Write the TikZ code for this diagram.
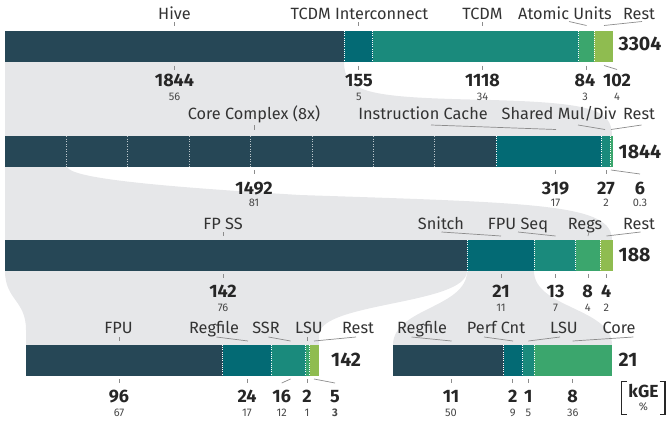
\documentclass[tikz,border=0pt]{standalone}
\usepackage{fontspec}
\setmainfont{Fira Sans}
\definecolor{cA}{HTML}{264756}
\definecolor{cB}{HTML}{036A74}
\definecolor{cC}{HTML}{1A8A7C}
\definecolor{cD}{HTML}{3BA66D}
\definecolor{cE}{HTML}{8FBC50}
\definecolor{bgc}{HTML}{E6E7E9}
\definecolor{lnc}{HTML}{8C8C8C}
\definecolor{txc}{HTML}{262626}
\definecolor{labc}{HTML}{333333}
\begin{document}
\begin{tikzpicture}[x=1pt,y=-1pt,
  lbl/.style={font=\fontsize{16.3}{18}\selectfont, text=labc, anchor=base, inner sep=0pt},
  num/.style={font=\bfseries\fontsize{18}{20}\selectfont, text=txc, anchor=base, inner sep=0pt},
  pct/.style={font=\fontsize{11}{12}\selectfont, text=txc!85, anchor=base, inner sep=0pt},
  tot/.style={font=\bfseries\fontsize{19.5}{22}\selectfont, text=txc, anchor=base west, inner sep=0pt},
  tk/.style={draw=lnc, line width=0.7pt},
  sepline/.style={draw=white, line width=0.9pt, dash pattern=on 1pt off 1.2pt},
  coresep/.style={draw=white, opacity=0.7, line width=0.8pt, dash pattern=on 1pt off 1.5pt},
  brk/.style={draw=txc, line width=1.8pt}]
\useasboundingbox (0,0) rectangle (667,426);
% ---------- funnels ----------
\fill[bgc] (5,62) -- (344,62) .. controls (344,92) and (368,97) .. (470,99.5)
  .. controls (590,102) and (612,108) .. (612,136) -- (5,136) -- cycle;
\fill[bgc] (5,167) -- (67,167) .. controls (72,178) and (150,186) .. (300,195)
  .. controls (540,203) and (612,204) .. (612,240) -- (5,240) -- cycle;
\fill[bgc] (5,271) -- (467,271) .. controls (467,305) and (319,302) .. (319,335) -- (319,345)
  -- (26,345) -- (26,330) .. controls (26,300) and (5,300) .. (5,271) -- cycle;
\fill[bgc] (467,271) -- (534,271) .. controls (534,308) and (612,308) .. (612,345)
  -- (393,345) .. controls (393,308) and (467,308) .. (467,271) -- cycle;
% ---------- bar 1 ----------
\fill[cA] (5,31) rectangle (344,62);
\fill[cB] (344,31) rectangle (372.5,62);
\fill[cC] (372.5,31) rectangle (578.5,62);
\fill[cD] (578.5,31) rectangle (594,62);
\fill[cE] (594,31) rectangle (612.5,62);
\foreach \x in {344,372.5,578.5,594} \draw[sepline] (\x,31) -- (\x,62);
% ---------- bar 2 ----------
\fill[cA] (5,136) rectangle (496,167);
\fill[cB] (496,136) rectangle (601,167);
\fill[cC] (601,136) rectangle (610,167);
\fill[cD] (610,136) rectangle (612.5,167);
\foreach \x in {66.4,127.8,189.2,250.6,312,373.4,434.8} \draw[coresep] (\x,136) -- (\x,167);
\foreach \x in {496,601,610} \draw[sepline] (\x,136) -- (\x,167);
% ---------- bar 3 ----------
\fill[cA] (5,240) rectangle (467,271);
\fill[cB] (467,240) rectangle (534,271);
\fill[cC] (534,240) rectangle (575.5,271);
\fill[cD] (575.5,240) rectangle (600,271);
\fill[cE] (600,240) rectangle (612.5,271);
\foreach \x in {467,534,575.5,600} \draw[sepline] (\x,240) -- (\x,271);
% ---------- bar 4a ----------
\fill[cA] (26,345) rectangle (222.5,376);
\fill[cB] (222.5,345) rectangle (271,376);
\fill[cC] (271,345) rectangle (305.5,376);
\fill[cD] (305.5,345) rectangle (309.5,376);
\fill[cE] (309.5,345) rectangle (319,376);
\foreach \x in {222.5,271,305.5,309.5} \draw[sepline] (\x,345) -- (\x,376);
% ---------- bar 4b ----------
\fill[cA] (393,345) rectangle (503.5,376);
\fill[cB] (503.5,345) rectangle (522.5,376);
\fill[cC] (522.5,345) rectangle (534,376);
\fill[cD] (534,345) rectangle (612,376);
\foreach \x in {503.5,522.5,534} \draw[sepline] (\x,345) -- (\x,376);

% ---------- row 1 labels ----------
\node[lbl] (h1) at (174.5,19) {Hive};
\node[lbl] (h2) at (359.5,19) {TCDM Interconnect};
\node[lbl] (h3) at (482.5,19) {TCDM};
\node[lbl] (h4) at (565,19) {Atomic Units};
\node[lbl] (h5) at (639,19) {Rest};
\draw[tk] (174.5,22) -- (174.5,26);
\draw[tk] (358.5,22) -- (358.5,26);
\draw[tk] (482.5,22) -- (482.5,26);
\draw[tk] (569,21.5) -- (586.5,25.5);
\draw[tk] (642,21.5) -- (604,25.5);
\draw[tk] (174.5,65.5) -- (174.5,69.5);
\draw[tk] (358.5,65.5) -- (358.5,69.5);
\draw[tk] (482.5,65.5) -- (482.5,69.5);
\draw[tk] (586,65.5) -- (586,69.5);
\draw[tk] (604,65.5) -- (617,69.5);
\node[num] (n11) at (174.5,86) {1844};
\node[num] (n12) at (359,86) {155};
\node[num] (n13) at (482.5,86) {1118};
\node[num] (n14) at (585,86) {84};
\node[num] (n15) at (617,86) {102};
\node[pct] (p11) at (174.5,100) {56};
\node[pct] (p12) at (359,100) {5};
\node[pct] (p13) at (482.5,100) {34};
\node[pct] (p14) at (585,100) {3};
\node[pct] (p15) at (617,100) {4};
\node[tot] (t1) at (618.5,50.5) {3304};

% ---------- row 2 labels ----------
\node[lbl] (c1) at (254,119.5) {Core Complex (8x)};
\node[lbl] (c2) at (423,119.5) {Instruction Cache};
\node[lbl] (c3) at (559,119.5) {Shared Mul/Div};
\node[lbl] (c4) at (639,119.5) {Rest};
\draw[tk] (254,125) -- (254,129.5);
\draw[tk] (431,125) -- (556,129.5);
\draw[tk] (578,125) -- (605,129.5);
\draw[tk] (641.5,125) -- (611,129.5);
\draw[tk] (254,170) -- (254,174);
\draw[tk] (555.5,170) -- (555.5,174);
\draw[tk] (606,170) -- (606,174);
\draw[tk] (611,170) -- (640,174);
\node[num] (n21) at (254,194.3) {1492};
\node[num] (n22) at (555.5,194.3) {319};
\node[num] (n23) at (606,194.3) {27};
\node[num] (n24) at (640,194.3) {6};
\node[pct] (p21) at (254,206.5) {81};
\node[pct] (p22) at (555.5,206.5) {17};
\node[pct] (p23) at (606,206.5) {2};
\node[pct] (p24) at (640,206.5) {0.3};
\node[tot] (t2) at (618.5,158.3) {1844};

% ---------- row 3 labels ----------
\node[lbl] (f1) at (223,229) {FP SS};
\node[lbl] (f2) at (441,229) {Snitch};
\node[lbl] (f3) at (518,229) {FPU Seq};
\node[lbl] (f4) at (585,229) {Regs};
\node[lbl] (f5) at (639,229) {Rest};
\draw[tk] (223,232) -- (223,236);
\draw[tk] (441.5,232) -- (501,236);
\draw[tk] (518,232) -- (555.5,236);
\draw[tk] (589,232) -- (588,236);
\draw[tk] (640.5,232) -- (606.5,236);
\foreach \x in {223,501,555.5,588,606.3} \draw[tk] (\x,274) -- (\x,278);
\node[num] (n31) at (223,297.3) {142};
\node[num] (n32) at (501,297.3) {21};
\node[num] (n33) at (555.5,297.3) {13};
\node[num] (n34) at (587.7,297.3) {8};
\node[num] (n35) at (606.3,297.3) {4};
\node[pct] (p31) at (223,311) {76};
\node[pct] (p32) at (501,311) {11};
\node[pct] (p33) at (555.5,311) {7};
\node[pct] (p34) at (587.7,311) {4};
\node[pct] (p35) at (606.3,311) {2};
\node[tot] (t3) at (618.5,261.5) {188};

% ---------- row 4a labels ----------
\node[lbl] (a1) at (118.5,333) {FPU};
\node[lbl] (a2) at (214,333) {Regfile};
\node[lbl] (a3) at (266,333) {SSR};
\node[lbl] (a4) at (309,333) {LSU};
\node[lbl] (a5) at (358,333) {Rest};
\draw[tk] (119,337) -- (119,341);
\draw[tk] (216.5,337) -- (248,341);
\draw[tk] (268.5,337) -- (290.5,341);
\draw[tk] (307,337) -- (307,341);
\draw[tk] (356,337) -- (314,341);
\draw[tk] (119,379) -- (119,383);
\draw[tk] (247,379) -- (247,383);
\draw[tk] (290.5,379) -- (281.7,383);
\draw[tk] (307,379) -- (307,383);
\draw[tk] (314,379) -- (335,383);
\node[num] (n41) at (119,402.7) {96};
\node[num] (n42) at (247,402.7) {24};
\node[num] (n43) at (281.7,402.7) {16};
\node[num] (n44) at (307,402.7) {2};
\node[num] (n45) at (335,402.7) {5};
\node[pct] (p41) at (119,416.7) {67};
\node[pct] (p42) at (247,416.7) {17};
\node[pct] (p43) at (281.7,416.7) {12};
\node[pct] (p44) at (307,416.7) {1};
\node[pct, font=\bfseries\fontsize{11}{12}\selectfont] (p45) at (335,416.7) {3};
\node[tot] (t4) at (331,366.5) {142};

% ---------- row 4b labels ----------
\node[lbl] (b1) at (422,333) {Regfile};
\node[lbl] (b2) at (496,333) {Perf Cnt};
\node[lbl] (b3) at (564,333) {LSU};
\node[lbl] (b4) at (619,333) {Core};
\draw[tk] (411.5,337) -- (451.5,341);
\draw[tk] (484,337) -- (513,341);
\draw[tk] (560,337) -- (528.3,341);
\draw[tk] (633.3,337) -- (572.7,341);
\foreach \x in {451,512.7,528.3,572.7} \draw[tk] (\x,379) -- (\x,383);
\node[num] (n51) at (451,402.7) {11};
\node[num] (n52) at (512.7,402.7) {2};
\node[num] (n53) at (528.3,402.7) {1};
\node[num] (n54) at (572.7,402.7) {8};
\node[pct] (p51) at (451,416.7) {50};
\node[pct] (p52) at (512.7,416.7) {9};
\node[pct] (p53) at (528.3,416.7) {5};
\node[pct] (p54) at (572.7,416.7) {36};
\node[tot] (t5) at (618.5,366.5) {21};

% ---------- legend ----------
\node[font=\bfseries\fontsize{17.5}{20}\selectfont, text=txc, anchor=base, inner sep=0pt] (kge) at (643.5,397) {kGE};
\node[pct] (pc) at (643.5,410.5) {\%};
\draw[brk] (627,381.5) -- (621.5,381.5) -- (621.5,414.5) -- (627,414.5);
\draw[brk] (659.5,381.5) -- (665,381.5) -- (665,414.5) -- (659.5,414.5);
\end{tikzpicture}
\end{document}
